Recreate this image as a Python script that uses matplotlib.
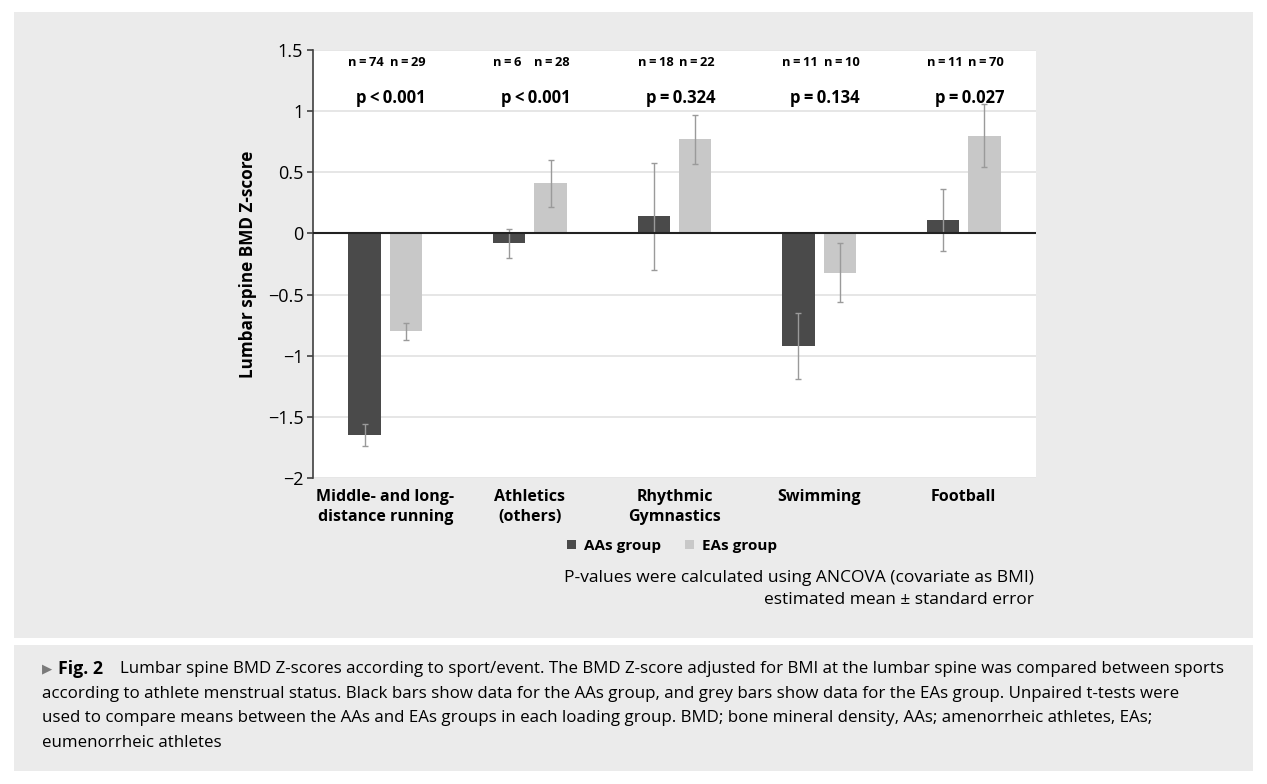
import numpy as np
import matplotlib
matplotlib.use("Agg")
import matplotlib.pyplot as plt
from matplotlib.patches import Rectangle

plt.rcParams['font.family'] = ['Open Sans', 'DejaVu Sans']

categories = ["Middle- and long-\ndistance running", "Athletics\n(others)",
              "Rhythmic\nGymnastics", "Swimming", "Football"]
aas_mean = [-1.65, -0.08, 0.14, -0.92, 0.11]
aas_se = [0.09, 0.12, 0.44, 0.27, 0.25]
eas_mean = [-0.80, 0.41, 0.77, -0.32, 0.80]
eas_se = [0.07, 0.19, 0.20, 0.24, 0.26]
aas_n = [74, 6, 18, 11, 11]
eas_n = [29, 28, 22, 10, 70]
p_labels = ["p\u2009<\u20090.001", "p\u2009<\u20090.001", "p\u2009=\u20090.324",
            "p\u2009=\u20090.134", "p\u2009=\u20090.027"]
yticks = [1.5, 1, 0.5, 0, -0.5, -1, -1.5, -2]
ytick_labels = ["1.5", "1", "0.5", "0", "\u22120.5", "\u22121", "\u22121.5", "\u22122"]

caption_lines = [
    "Lumbar spine BMD Z-scores according to sport/event. The BMD Z-score adjusted for BMI at the lumbar spine was compared between sports",
    "according to athlete menstrual status. Black bars show data for the AAs group, and grey bars show data for the EAs group. Unpaired t-tests were",
    "used to compare means between the AAs and EAs groups in each loading group. BMD; bone mineral density, AAs; amenorrheic athletes, EAs;",
    "eumenorrheic athletes",
]

W, H = 1267, 784
fig = plt.figure(figsize=(W / 100, H / 100), dpi=100)
fig.patch.set_facecolor("white")

panel = "#ebebeb"
fig.add_artist(Rectangle((14 / W, 1 - 638 / H), (1253 - 14) / W, (638 - 12) / H,
                         transform=fig.transFigure, facecolor=panel, edgecolor="none", zorder=0))
fig.add_artist(Rectangle((14 / W, 1 - 771 / H), (1253 - 14) / W, (771 - 645) / H,
                         transform=fig.transFigure, facecolor=panel, edgecolor="none", zorder=0))

ax = fig.add_axes([313 / W, 1 - 478 / H, (1036 - 313) / W, (478 - 50) / H])
ax.set_facecolor("white")

x = np.arange(len(categories))
width = 0.225
off = 0.143
err_kw = dict(ecolor="#9a9a9a", elinewidth=1, capsize=2.5, capthick=1)
ax.bar(x - off, aas_mean, width, yerr=aas_se, color="#4a4a4a", error_kw=err_kw,
       label="AAs group", zorder=3)
ax.bar(x + off, eas_mean, width, yerr=eas_se, color="#c8c8c8", error_kw=err_kw,
       label="EAs group", zorder=3)

ax.set_xlim(-0.5, len(categories) - 0.5)
ax.set_ylim(-2, 1.5)
for y in yticks:
    if y != 0:
        ax.axhline(y, color="#e2e2e2", lw=1.2, zorder=1)
ax.axhline(0, color="#222222", lw=1.5, zorder=4)

for s in ["top", "right", "bottom"]:
    ax.spines[s].set_visible(False)
ax.spines["left"].set_color("#404040")
ax.spines["left"].set_linewidth(1.2)

ax.set_yticks(yticks, ytick_labels)
ax.tick_params(axis="y", length=4, width=1.2, color="#404040", labelsize=13, pad=3)
ax.set_xticks(x, categories, fontweight="bold", fontsize=11.5, linespacing=1.3)
ax.tick_params(axis="x", length=0, pad=8)

ax.set_ylabel("Lumbar spine BMD Z-score", fontsize=12.3, fontweight="bold", labelpad=8)

for i in range(len(categories)):
    ax.text(x[i] - off - width / 2, 1.395, f"n\u2009=\u2009{aas_n[i]}", ha="left", va="center",
            fontsize=9.3, fontweight="bold")
    ax.text(x[i] + off - width / 2, 1.395, f"n\u2009=\u2009{eas_n[i]}", ha="left", va="center",
            fontsize=9.3, fontweight="bold")
    ax.text(x[i] + 0.04, 1.11, p_labels[i], ha="center", va="center",
            fontsize=12, fontweight="bold")

ax.legend(loc="center", bbox_to_anchor=(672 / W, 1 - 546 / H), bbox_transform=fig.transFigure,
          ncol=2, frameon=False, handlelength=0.6, handleheight=0.6, handletextpad=0.5,
          columnspacing=1.6, prop=dict(weight="bold", size=11))

fig.text(1034 / W, 1 - 578 / H, "P-values were calculated using ANCOVA (covariate as BMI)",
         ha="right", va="center", fontsize=12.5)
fig.text(1034 / W, 1 - 600 / H, "estimated mean \u00b1 standard error",
         ha="right", va="center", fontsize=12.5)

cap_size = 12.2
y0 = 669
fig.text(42 / W, 1 - y0 / H, "\u25b6", ha="left", va="center", fontsize=9.5,
         color="#7a7a7a", family="DejaVu Sans")
fig.text(58 / W, 1 - y0 / H, "Fig. 2", ha="left", va="center", fontsize=12.8, fontweight="bold")
fig.text(120 / W, 1 - y0 / H, caption_lines[0], ha="left", va="center", fontsize=cap_size)
for k, line in enumerate(caption_lines[1:]):
    fig.text(42 / W, 1 - (y0 + 24.7 * (k + 1)) / H, line, ha="left", va="center", fontsize=cap_size)

fig.savefig("out.png", dpi=100, facecolor=fig.get_facecolor())
